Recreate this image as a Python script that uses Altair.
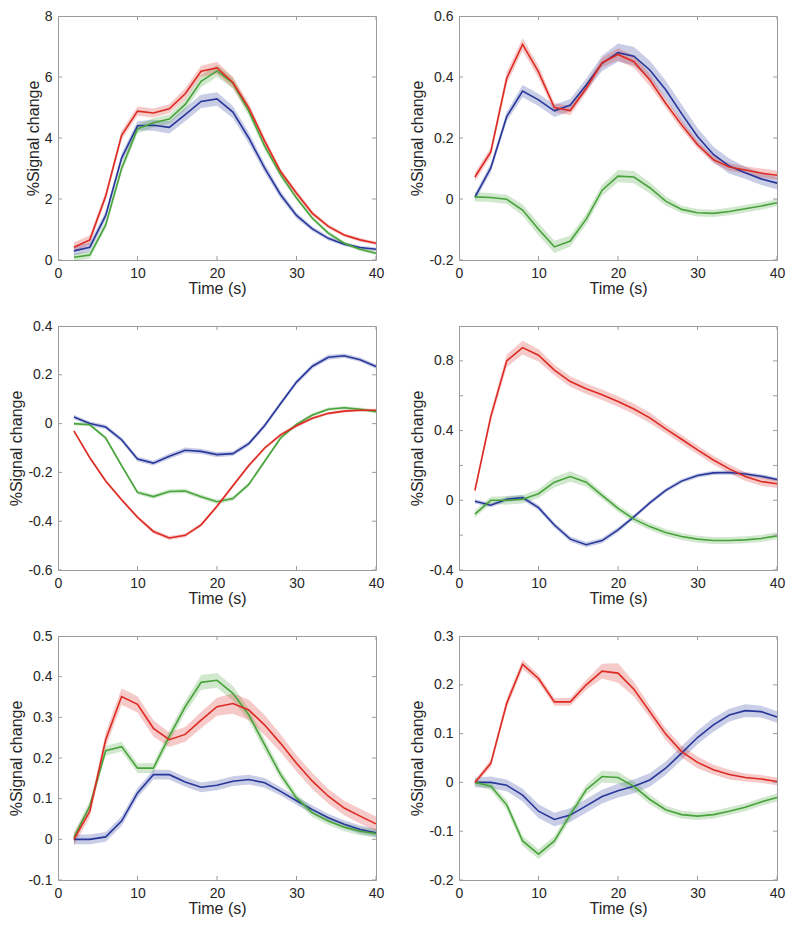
import altair as alt
import pandas as pd

# ---------------- data ----------------
TIME = [2, 4, 6, 8, 10, 12, 14, 16, 18, 20, 22, 24, 26, 28, 30, 32, 34, 36, 38, 40]
X_TICKS = [0, 10, 20, 30, 40]
SERIES = ["red", "green", "blue"]
LINE_COLORS = ["#dd2a22", "#47a33a", "#27379a"]

# Panel 1 (top left)
P1_RED = [0.42, 0.66, 2.1, 4.09, 4.88, 4.82, 4.96, 5.45, 6.19, 6.3, 5.82, 4.99, 3.9, 2.9, 2.19, 1.53, 1.1, 0.82, 0.66, 0.55]
P1_GREEN = [0.09, 0.16, 1.15, 3.0, 4.3, 4.5, 4.62, 5.1, 5.86, 6.2, 5.8, 4.88, 3.73, 2.8, 2.03, 1.37, 0.88, 0.55, 0.35, 0.22]
P1_BLUE = [0.3, 0.42, 1.46, 3.34, 4.4, 4.42, 4.35, 4.77, 5.2, 5.28, 4.85, 4.0, 3.01, 2.14, 1.46, 1.02, 0.71, 0.52, 0.41, 0.35]
P1_ERR_RED = [0.15, 0.15, 0.15, 0.15, 0.15, 0.15, 0.15, 0.18, 0.18, 0.2, 0.18, 0.15, 0.12, 0.1, 0.1, 0.08, 0.07, 0.06, 0.06, 0.06]
P1_ERR_GREEN = [0.12, 0.12, 0.12, 0.15, 0.15, 0.15, 0.15, 0.18, 0.2, 0.2, 0.18, 0.15, 0.12, 0.1, 0.08, 0.07, 0.07, 0.06, 0.06, 0.06]
P1_ERR_BLUE = [0.15, 0.15, 0.15, 0.15, 0.15, 0.18, 0.2, 0.22, 0.22, 0.22, 0.2, 0.18, 0.15, 0.12, 0.1, 0.08, 0.07, 0.06, 0.06, 0.06]
P1_DOMAIN = [0, 8]
P1_TICKS = [0, 2, 4, 6, 8]

# Panel 2 (top right)
P2_RED = [0.072, 0.154, 0.396, 0.507, 0.417, 0.30, 0.29, 0.363, 0.447, 0.474, 0.45, 0.39, 0.314, 0.243, 0.178, 0.129, 0.105, 0.095, 0.085, 0.078]
P2_GREEN = [0.007, 0.005, -0.001, -0.036, -0.099, -0.157, -0.138, -0.066, 0.029, 0.075, 0.072, 0.037, -0.007, -0.034, -0.045, -0.047, -0.041, -0.032, -0.023, -0.012]
P2_BLUE = [0.006, 0.102, 0.27, 0.354, 0.325, 0.289, 0.308, 0.374, 0.445, 0.48, 0.468, 0.423, 0.358, 0.28, 0.205, 0.146, 0.108, 0.086, 0.066, 0.052]
P2_ERR_RED = [0.015, 0.015, 0.02, 0.02, 0.02, 0.015, 0.015, 0.015, 0.015, 0.02, 0.02, 0.02, 0.015, 0.015, 0.012, 0.012, 0.012, 0.012, 0.015, 0.015]
P2_ERR_GREEN = [0.015, 0.015, 0.015, 0.018, 0.02, 0.02, 0.018, 0.018, 0.018, 0.02, 0.02, 0.018, 0.015, 0.012, 0.012, 0.012, 0.012, 0.012, 0.012, 0.012]
P2_ERR_BLUE = [0.012, 0.015, 0.015, 0.02, 0.02, 0.02, 0.02, 0.02, 0.025, 0.03, 0.03, 0.03, 0.03, 0.03, 0.028, 0.025, 0.025, 0.02, 0.02, 0.02]
P2_DOMAIN = [-0.2, 0.6]
P2_TICKS = [-0.2, 0, 0.2, 0.4, 0.6]

# Panel 3 (middle left)
P3_RED = [-0.03, -0.14, -0.235, -0.312, -0.384, -0.442, -0.469, -0.458, -0.415, -0.339, -0.255, -0.172, -0.1, -0.046, -0.009, 0.022, 0.042, 0.051, 0.055, 0.055]
P3_GREEN = [0.0, -0.005, -0.059, -0.172, -0.282, -0.299, -0.278, -0.276, -0.3, -0.32, -0.307, -0.249, -0.154, -0.059, -0.003, 0.035, 0.059, 0.065, 0.059, 0.049]
P3_BLUE = [0.027, 0.0, -0.014, -0.066, -0.145, -0.162, -0.134, -0.109, -0.114, -0.127, -0.123, -0.082, -0.008, 0.082, 0.17, 0.235, 0.272, 0.278, 0.262, 0.234]
P3_ERR_RED = [0.006, 0.006, 0.007, 0.007, 0.008, 0.008, 0.008, 0.008, 0.008, 0.008, 0.008, 0.008, 0.007, 0.007, 0.007, 0.006, 0.006, 0.006, 0.006, 0.006]
P3_ERR_GREEN = [0.007, 0.007, 0.008, 0.008, 0.009, 0.009, 0.009, 0.009, 0.009, 0.009, 0.009, 0.008, 0.008, 0.008, 0.008, 0.007, 0.007, 0.007, 0.007, 0.007]
P3_ERR_BLUE = [0.009, 0.009, 0.009, 0.01, 0.01, 0.01, 0.011, 0.011, 0.011, 0.011, 0.01, 0.01, 0.01, 0.01, 0.01, 0.01, 0.01, 0.009, 0.009, 0.009]
P3_DOMAIN = [-0.6, 0.4]
P3_TICKS = [-0.6, -0.4, -0.2, 0, 0.2, 0.4]

# Panel 4 (middle right)
P4_RED = [0.057, 0.48, 0.80, 0.876, 0.832, 0.747, 0.681, 0.64, 0.605, 0.567, 0.524, 0.473, 0.41, 0.35, 0.289, 0.231, 0.18, 0.136, 0.108, 0.095]
P4_GREEN = [-0.079, 0.0, 0.0, 0.006, 0.038, 0.104, 0.136, 0.104, 0.028, -0.047, -0.108, -0.151, -0.185, -0.208, -0.223, -0.231, -0.231, -0.227, -0.219, -0.204]
P4_BLUE = [-0.006, -0.028, 0.006, 0.015, -0.042, -0.142, -0.223, -0.255, -0.231, -0.17, -0.095, -0.015, 0.057, 0.11, 0.142, 0.157, 0.159, 0.151, 0.138, 0.119]
P4_ERR_RED = [0.02, 0.03, 0.035, 0.04, 0.035, 0.03, 0.03, 0.03, 0.03, 0.03, 0.03, 0.03, 0.025, 0.025, 0.025, 0.025, 0.025, 0.025, 0.025, 0.025]
P4_ERR_GREEN = [0.02, 0.02, 0.025, 0.025, 0.025, 0.03, 0.03, 0.025, 0.02, 0.02, 0.02, 0.02, 0.02, 0.02, 0.02, 0.02, 0.02, 0.02, 0.02, 0.02]
P4_ERR_BLUE = [0.012, 0.012, 0.015, 0.015, 0.015, 0.015, 0.015, 0.015, 0.015, 0.015, 0.012, 0.012, 0.012, 0.012, 0.012, 0.012, 0.012, 0.012, 0.012, 0.012]
P4_DOMAIN = [-0.4, 1.0]
P4_TICKS = [-0.4, -0.2, 0, 0.2, 0.4, 0.6, 0.8, 1]

# Panel 5 (bottom left)
P5_RED = [0.0, 0.069, 0.245, 0.351, 0.332, 0.273, 0.245, 0.258, 0.293, 0.326, 0.334, 0.318, 0.281, 0.236, 0.187, 0.143, 0.106, 0.077, 0.057, 0.038]
P5_GREEN = [0.004, 0.082, 0.218, 0.228, 0.175, 0.175, 0.253, 0.326, 0.386, 0.391, 0.359, 0.306, 0.232, 0.159, 0.102, 0.065, 0.045, 0.03, 0.02, 0.014]
P5_BLUE = [0.0, 0.0, 0.006, 0.045, 0.114, 0.159, 0.159, 0.141, 0.128, 0.133, 0.143, 0.147, 0.139, 0.118, 0.095, 0.073, 0.053, 0.037, 0.024, 0.016]
P5_ERR_RED = [0.015, 0.015, 0.018, 0.02, 0.02, 0.02, 0.018, 0.018, 0.02, 0.022, 0.025, 0.025, 0.025, 0.022, 0.02, 0.02, 0.018, 0.018, 0.018, 0.018]
P5_ERR_GREEN = [0.012, 0.012, 0.012, 0.012, 0.012, 0.012, 0.015, 0.015, 0.018, 0.018, 0.018, 0.015, 0.015, 0.012, 0.01, 0.01, 0.01, 0.01, 0.01, 0.01]
P5_ERR_BLUE = [0.012, 0.012, 0.012, 0.012, 0.012, 0.012, 0.012, 0.012, 0.012, 0.012, 0.012, 0.012, 0.012, 0.01, 0.01, 0.01, 0.01, 0.01, 0.01, 0.01]
P5_DOMAIN = [-0.1, 0.5]
P5_TICKS = [-0.1, 0, 0.1, 0.2, 0.3, 0.4, 0.5]

# Panel 6 (bottom right)
P6_RED = [0.0, 0.039, 0.162, 0.242, 0.213, 0.165, 0.165, 0.2, 0.228, 0.224, 0.191, 0.145, 0.099, 0.063, 0.041, 0.026, 0.016, 0.01, 0.007, 0.002]
P6_GREEN = [0.0, -0.008, -0.046, -0.12, -0.147, -0.12, -0.066, -0.015, 0.012, 0.01, -0.008, -0.035, -0.056, -0.066, -0.069, -0.066, -0.059, -0.051, -0.04, -0.031]
P6_BLUE = [0.0, 0.0, -0.006, -0.026, -0.059, -0.076, -0.067, -0.048, -0.029, -0.017, -0.008, 0.005, 0.029, 0.06, 0.092, 0.118, 0.138, 0.147, 0.145, 0.134]
P6_ERR_RED = [0.005, 0.008, 0.01, 0.01, 0.008, 0.008, 0.008, 0.01, 0.015, 0.02, 0.015, 0.012, 0.012, 0.012, 0.012, 0.01, 0.01, 0.008, 0.008, 0.008]
P6_ERR_GREEN = [0.006, 0.008, 0.01, 0.01, 0.01, 0.01, 0.01, 0.01, 0.012, 0.012, 0.01, 0.01, 0.008, 0.008, 0.008, 0.008, 0.008, 0.008, 0.008, 0.008]
P6_ERR_BLUE = [0.01, 0.012, 0.012, 0.013, 0.014, 0.014, 0.014, 0.014, 0.014, 0.014, 0.014, 0.014, 0.014, 0.014, 0.014, 0.014, 0.013, 0.013, 0.012, 0.012]
P6_DOMAIN = [-0.2, 0.3]
P6_TICKS = [-0.2, -0.1, 0, 0.1, 0.2, 0.3]

PANELS = [
    (P1_RED, P1_GREEN, P1_BLUE, P1_ERR_RED, P1_ERR_GREEN, P1_ERR_BLUE, P1_DOMAIN, P1_TICKS),
    (P2_RED, P2_GREEN, P2_BLUE, P2_ERR_RED, P2_ERR_GREEN, P2_ERR_BLUE, P2_DOMAIN, P2_TICKS),
    (P3_RED, P3_GREEN, P3_BLUE, P3_ERR_RED, P3_ERR_GREEN, P3_ERR_BLUE, P3_DOMAIN, P3_TICKS),
    (P4_RED, P4_GREEN, P4_BLUE, P4_ERR_RED, P4_ERR_GREEN, P4_ERR_BLUE, P4_DOMAIN, P4_TICKS),
    (P5_RED, P5_GREEN, P5_BLUE, P5_ERR_RED, P5_ERR_GREEN, P5_ERR_BLUE, P5_DOMAIN, P5_TICKS),
    (P6_RED, P6_GREEN, P6_BLUE, P6_ERR_RED, P6_ERR_GREEN, P6_ERR_BLUE, P6_DOMAIN, P6_TICKS),
]

BOX = "#9c9c9c"
FONT = "Liberation Sans"
W, H = 318, 244


def make_panel(red, green, blue, er, eg, eb, dom, yticks):
    rows = []
    for name, vals, errs in (("blue", blue, eb), ("green", green, eg), ("red", red, er)):
        for t, v, e in zip(TIME, vals, errs):
            rows.append({"t": t, "series": name, "v": v, "lo": v - e, "hi": v + e})
    df = pd.DataFrame(rows)

    xs = alt.Scale(domain=[0, 40], nice=False, zero=False)
    ys = alt.Scale(domain=dom, nice=False, zero=False)
    xaxis = alt.Axis(values=X_TICKS, title="Time (s)", labelExpr="toString(datum.value)",
                     labelOverlap=False, labelFlush=False, labelPadding=6, titlePadding=0)
    yaxis = alt.Axis(values=yticks, title="%Signal change", labelExpr="toString(datum.value)",
                     labelOverlap=False, labelFlush=False, labelPadding=6, titlePadding=3)
    color = alt.Color("series:N", scale=alt.Scale(domain=SERIES, range=LINE_COLORS), legend=None)

    base = alt.Chart(df)
    band = base.mark_area(opacity=0.25).encode(
        x=alt.X("t:Q", scale=xs, axis=xaxis),
        y=alt.Y("lo:Q", scale=ys, axis=yaxis),
        y2="hi:Q",
        color=color,
    )
    line = base.mark_line(strokeWidth=1.6).encode(
        x=alt.X("t:Q", scale=xs, axis=xaxis),
        y=alt.Y("v:Q", scale=ys, axis=yaxis),
        color=color,
    )

    xt = alt.Chart(pd.DataFrame({"t": X_TICKS})).mark_tick(
        orient="vertical", size=8, thickness=1, color=BOX, clip=True, opacity=1
    )
    xt_bottom = xt.encode(x=alt.X("t:Q", scale=xs, axis=xaxis), y=alt.YDatum(dom[0], scale=ys))
    xt_top = xt.encode(x=alt.X("t:Q", scale=xs, axis=xaxis), y=alt.YDatum(dom[1], scale=ys))

    yt = alt.Chart(pd.DataFrame({"v": yticks})).mark_tick(
        orient="horizontal", size=8, thickness=1, color=BOX, clip=True, opacity=1
    )
    yt_left = yt.encode(y=alt.Y("v:Q", scale=ys, axis=yaxis), x=alt.XDatum(0, scale=xs))
    yt_right = yt.encode(y=alt.Y("v:Q", scale=ys, axis=yaxis), x=alt.XDatum(40, scale=xs))

    return alt.layer(band, line, xt_bottom, xt_top, yt_left, yt_right).properties(width=W, height=H)


panels = [make_panel(*p) for p in PANELS]

chart = (
    alt.concat(*panels, columns=2, bounds="flush", spacing={"row": 66, "column": 83})
    .properties(padding={"left": 0, "top": 0, "right": 0, "bottom": 0}, background="white")
    .configure_view(stroke=BOX, strokeWidth=1)
    .configure_axis(
        domain=False,
        ticks=False,
        grid=False,
        labelFont=FONT,
        labelFontSize=14,
        labelColor="#262626",
        labelOverlap=False,
        labelFlush=False,
        titleFont=FONT,
        titleFontSize=16,
        titleFontWeight="normal",
        titleColor="#262626",
    )
)

chart.save("out.html", embed_options={"renderer": "svg", "actions": False})
